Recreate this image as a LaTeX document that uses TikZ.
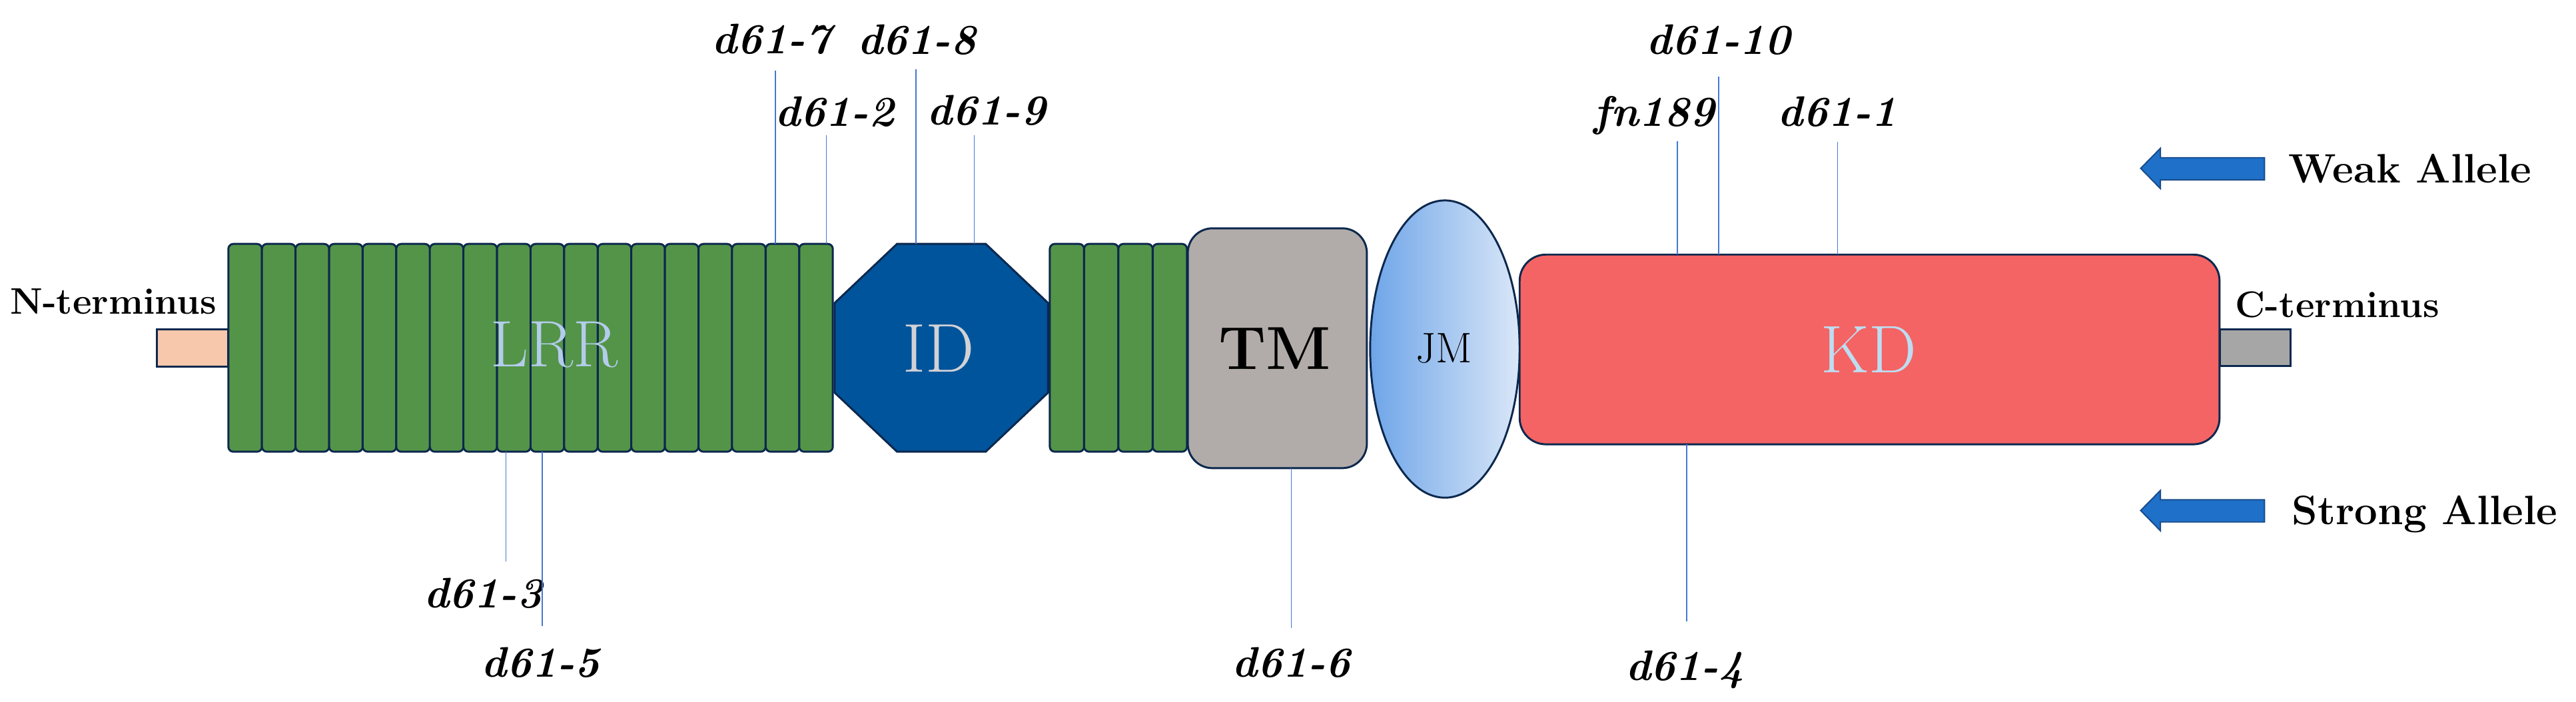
\documentclass[tikz,border=0pt]{standalone}
\usepackage{fontspec}
\usetikzlibrary{shapes.geometric}
\definecolor{navy}{RGB}{12,40,78}
\definecolor{lrrgreen}{RGB}{84,148,72}
\definecolor{idblue}{RGB}{0,84,155}
\definecolor{tmgray}{RGB}{177,172,169}
\definecolor{kdred}{RGB}{244,100,100}
\definecolor{npink}{RGB}{248,200,172}
\definecolor{cgray}{RGB}{166,166,166}
\definecolor{lrrtext}{RGB}{180,204,236}
\definecolor{idtext}{RGB}{210,210,214}
\definecolor{kdtext}{RGB}{189,221,242}
\definecolor{mutblue}{RGB}{68,120,210}
\definecolor{arrfill}{RGB}{30,112,200}
\definecolor{arrdraw}{RGB}{25,75,140}
\definecolor{jmL}{RGB}{110,165,232}
\definecolor{jmR}{RGB}{218,231,248}
\begin{document}
\begin{tikzpicture}[x=1pt,y=-1pt,
  dom/.style={draw=navy, line width=1.2pt, inner sep=0pt, outer sep=0pt},
  lrrbar/.style={dom, fill=lrrgreen, rounded corners=3pt, minimum height=126.5pt},
  termbox/.style={dom, rectangle, minimum height=22.5pt},
  mut/.style={draw=mutblue, line width=0.7pt},
  lab/.style={inner sep=0pt, anchor=base, font=\fontsize{26}{30}\selectfont\bfseries\itshape},
  termtxt/.style={inner sep=0pt, anchor=base west, font=\fontsize{22.5}{26}\selectfont\bfseries},
  allele/.style={inner sep=0pt, anchor=base west, font=\fontsize{25}{29}\selectfont\bfseries},
  arr/.style={fill=arrfill, draw=arrdraw, line width=0.8pt, line join=miter},
  dtxt/.style={inner sep=0pt}
]
\useasboundingbox (0,0) rectangle (1568,427);

% N-terminus
\node[termbox, fill=npink, minimum width=43.7pt] (nbox) at (117.2,211.85) {};
\node[termtxt] (ntxt) at (6,191.3) {N-terminus};

% LRR repeats (18 bars)
\foreach \i in {0,...,17} {
  \node[lrrbar, minimum width=20.44pt] (b\i) at ({139+20.44*\i+10.22},211.75) {};
}
\node[dtxt, font=\fontsize{40}{44}\selectfont, text=lrrtext] (lrr) at (337.5,210) {LRR};

% ID octagon
\draw[dom, fill=idblue] (508,184.5) -- (546,148.5) -- (600,148.5) -- (638,184.5)
  -- (638,239) -- (600,275) -- (546,275) -- (508,239) -- cycle;
\coordinate (idtop) at (573,148.5);
\node[dtxt, font=\fontsize{42}{46}\selectfont, text=idtext] (id) at (571.5,212) {ID};

% second LRR group (4 bars)
\foreach \i in {0,...,3} {
  \node[lrrbar, minimum width=20.875pt] (c\i) at ({639+20.875*\i+10.44},211.75) {};
}

% TM
\node[dom, fill=tmgray, rectangle, rounded corners=15pt, minimum width=109pt, minimum height=146pt] (tm) at (777.5,212) {};
\node[dtxt, font=\fontsize{37}{41}\selectfont\bfseries] (tmtxt) at (776,212) {TM};

% JM
\node[dom, ellipse, left color=jmL, right color=jmR, minimum width=91pt, minimum height=181pt] (jm) at (879.5,212.5) {};
\node[dtxt, font=\fontsize{26}{30}\selectfont] (jmtxt) at (879,212) {JM};

% C-terminus box and KD
\node[termbox, fill=cgray, minimum width=42.7pt] (cbox) at (1372.8,211.7) {};
\node[dom, fill=kdred, rectangle, rounded corners=16pt, minimum width=426pt, minimum height=115.5pt] (kd) at (1138,212.75) {};
\node[dtxt, font=\fontsize{41}{45}\selectfont, text=kdtext] (kdtxt) at (1137.5,213) {KD};
\node[termtxt] (ctxt) at (1360.5,193.3) {C-terminus};

% top mutation labels
\node[lab] (l7) at (469.5,32.5) {d61-7};
\node[lab] (l8) at (558,33) {d61-8};
\node[lab] (l2) at (508,77) {d61-2};
\node[lab] (l9) at (600.5,76) {d61-9};
\node[lab] (l10) at (1046,33) {d61-10};
\node[lab] (lfn) at (1007,77) {fn189};
\node[lab] (l1) at (1118.3,77) {d61-1};
% bottom mutation labels
\node[lab] (l3) at (294,370) {d61-3};
\node[lab] (l5) at (329,412) {d61-5};
\node[lab] (l6) at (786,412) {d61-6};
\node[lab] (l4) at (1025.5,414) {d61-4};

% line ends near the labels
\coordinate (t7) at (472,43);
\coordinate (t8) at (557.6,42);
\coordinate (t2) at (503,82.5);
\coordinate (t9) at (593,82.5);
\coordinate (t10) at (1046,46.6);
\coordinate (tfn) at (1021,86);
\coordinate (t1) at (1118.5,86.5);
\coordinate (t3) at (308,342);
\coordinate (t5) at (330,381);
\coordinate (t6) at (786,382.5);
\coordinate (t4) at (1026.6,378.5);

% mutation connectors
\draw[mut] (t7) -- (t7 |- b16.north);
\draw[mut] (t2) -- (t2 |- b17.north);
\draw[mut] (t8) -- (t8 |- idtop);
\draw[mut] (t9) -- (t9 |- idtop);
\draw[mut] (t10) -- (t10 |- kd.north);
\draw[mut] (tfn) -- (tfn |- kd.north);
\draw[mut] (t1) -- (t1 |- kd.north);
\draw[mut] (t3) -- (t3 |- b8.south);
\draw[mut] (t5) -- (t5 |- b9.south);
\draw[mut] (t6) -- (t6 |- tm.south);
\draw[mut] (t4) -- (t4 |- kd.south);

% legend arrows
\foreach \yy in {102.5,310.8} {
  \draw[arr] (1303,\yy) -- (1315,{\yy-12.2}) -- (1315,{\yy-6.5}) -- (1378.4,{\yy-6.5})
    -- (1378.4,{\yy+7}) -- (1315,{\yy+7}) -- (1315,{\yy+12.3}) -- cycle;
}
\node[allele] (weak) at (1393,111.5) {Weak Allele};
\node[allele] (strong) at (1395,319.5) {Strong Allele};
\end{tikzpicture}
\end{document}
